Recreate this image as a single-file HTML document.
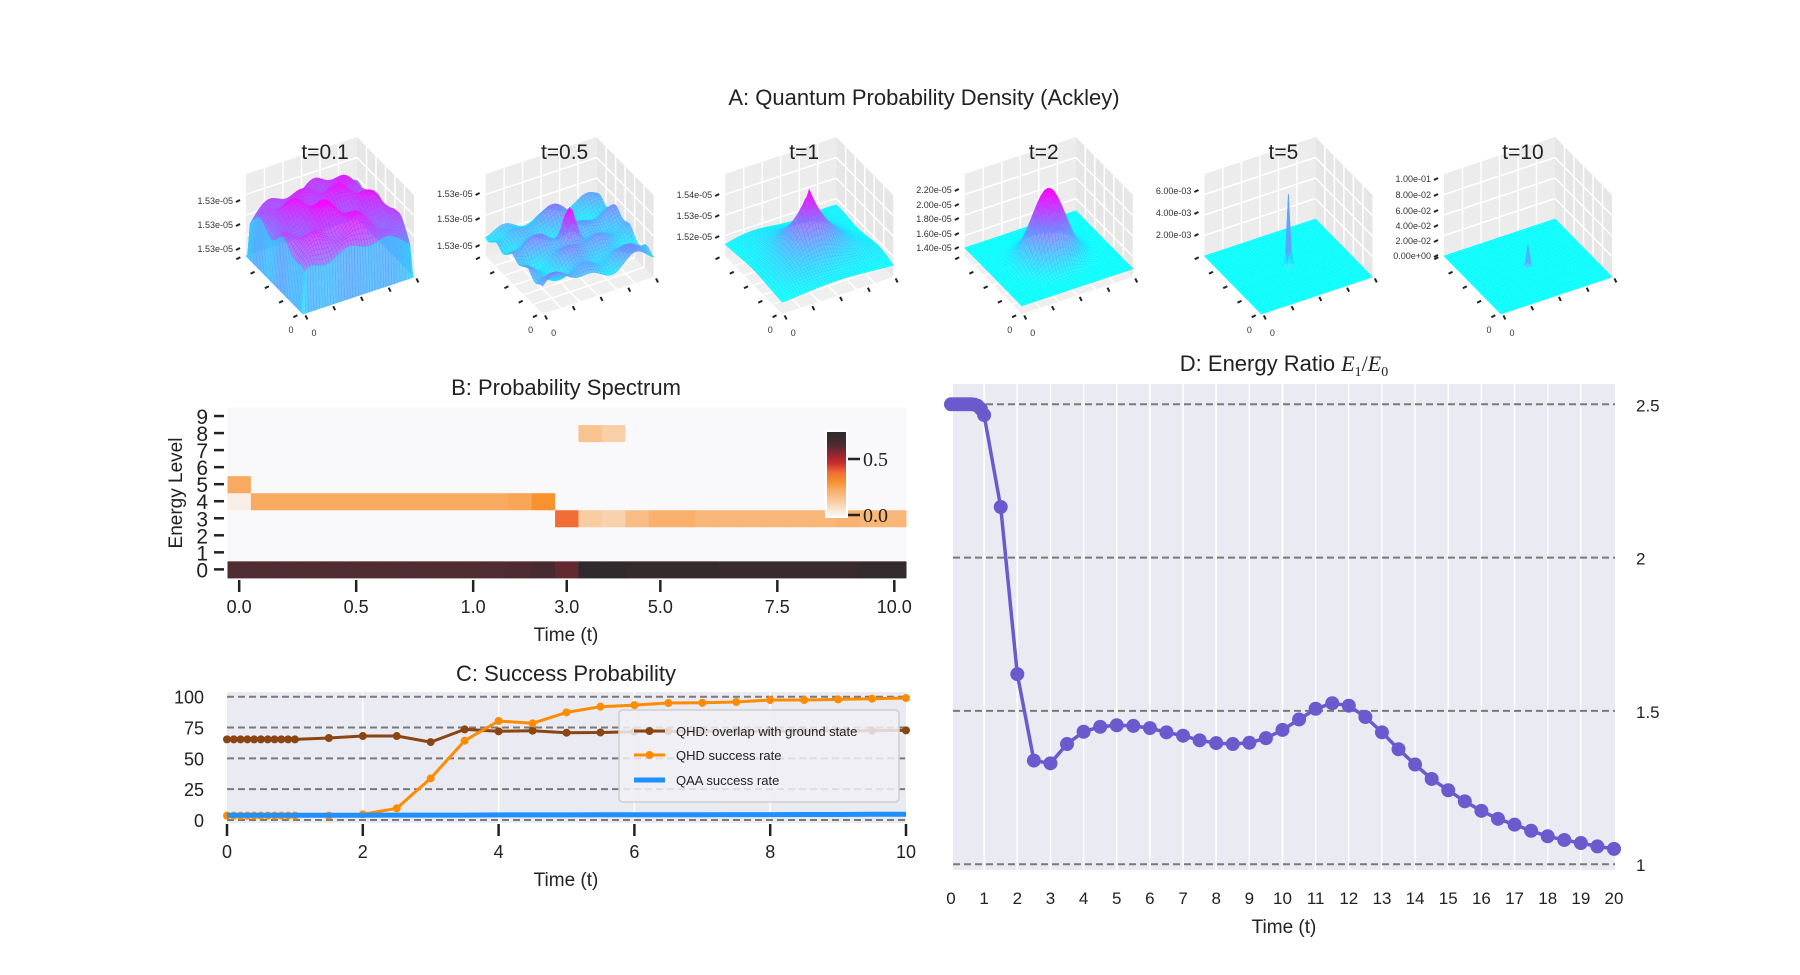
<!DOCTYPE html>
<html><head><meta charset="utf-8"><title>QHD Figure</title>
<style>
html,body{margin:0;padding:0;background:#fff;}
svg{display:block;font-family:"Liberation Sans",sans-serif;}
</style></head>
<body>
<svg id="fig" width="1800" height="975" viewBox="0 0 1800 975" xmlns="http://www.w3.org/2000/svg">
<rect width="1800" height="975" fill="#fff"/>
<text x="924" y="105" font-size="22" text-anchor="middle" fill="#222">A: Quantum Probability Density (Ackley)</text>
<g id="panelA"></g>
<g id="panelB"></g>
<g id="panelC"></g>
<g id="panelD"></g>
</svg>
<script>
// ---------- DATA ----------
const surfTitles = ['t=0.1','t=0.5','t=1','t=2','t=5','t=10'];
const surfZTicks = [
  ['1.53e-05','1.53e-05','1.53e-05'],
  ['1.53e-05','1.53e-05','1.53e-05'],
  ['1.54e-05','1.53e-05','1.52e-05'],
  ['2.20e-05','2.00e-05','1.80e-05','1.60e-05','1.40e-05'],
  ['6.00e-03','4.00e-03','2.00e-03'],
  ['1.00e-01','8.00e-02','6.00e-02','4.00e-02','2.00e-02','0.00e+00']
];
const surfZTickY = [[201,225,249],[194,219,246],[195,216,237],[190,205,219,234,248],[191,213,235],[179,195,211,226,241,256]];

const heatTimes = ['0.0','0.1','0.2','0.3','0.4','0.5','0.6','0.7','0.8','0.9','1.0','1.5','2.0','2.5','3.0','3.5','4.0','4.5','5.0','5.5','6.0','6.5','7.0','7.5','8.0','8.5','9.0','9.5','10.0'];
const heatTickCols = [0,5,10,14,18,23,28];
const heatLevels = [0,1,2,3,4,5,6,7,8,9];
const heatRow0 = [0.62,0.62,0.62,0.62,0.62,0.62,0.62,0.62,0.62,0.62,0.62,0.62,0.63,0.65,0.6,0.73,0.73,0.71,0.71,0.71,0.71,0.7,0.7,0.7,0.7,0.7,0.7,0.72,0.72];
const heatRow3 = [0,0,0,0,0,0,0,0,0,0,0,0,0,0,0.38,0.13,0.11,0.18,0.22,0.22,0.2,0.2,0.2,0.2,0.2,0.2,0.21,0.2,0.2];
const heatRow4 = [0.03,0.24,0.24,0.24,0.24,0.24,0.24,0.24,0.24,0.24,0.24,0.24,0.25,0.3,0,0,0,0,0,0,0,0,0,0,0,0,0,0,0];
const heatRow5 = [0.24,0,0,0,0,0,0,0,0,0,0,0,0,0,0,0,0,0,0,0,0,0,0,0,0,0,0,0,0];
const heatRow8 = [0,0,0,0,0,0,0,0,0,0,0,0,0,0,0,0.16,0.12,0,0,0,0,0,0,0,0,0,0,0,0];

const cTimes = [0,0.1,0.2,0.3,0.4,0.5,0.6,0.7,0.8,0.9,1,1.5,2,2.5,3,3.5,4,4.5,5,5.5,6,6.5,7,7.5,8,8.5,9,9.5,10];
const cOverlap = [65.4,65.4,65.4,65.4,65.4,65.4,65.4,65.4,65.4,65.4,65.4,66.5,68.1,68.1,63.2,73.5,71.9,72.4,70.8,71,71.6,72,72,72,72,72.2,72.3,72.5,72.7];
const cQHD = [3.5,3.5,3.5,3.5,3.5,3.5,3.5,3.5,3.5,3.5,3.5,3.5,4.6,9.5,33.8,64.3,80.3,78.4,87.3,91.9,93.2,94.9,95.1,95.7,97.3,97.3,97.8,98.4,98.9];
const cQAA = [3.8,3.8,3.8,3.8,3.8,3.8,3.8,3.8,3.8,3.8,3.8,3.9,3.9,4,4,4,4.1,4.1,4.1,4.2,4.2,4.3,4.3,4.4,4.4,4.5,4.5,4.6,4.6];
const cXTicks = [0,2,4,6,8,10];
const cYTicks = [0,25,50,75,100];

const dTimes = [0,0.1,0.2,0.3,0.4,0.5,0.6,0.7,0.8,0.9,1,1.5,2,2.5,3,3.5,4,4.5,5,5.5,6,6.5,7,7.5,8,8.5,9,9.5,10,10.5,11,11.5,12,12.5,13,13.5,14,14.5,15,15.5,16,16.5,17,17.5,18,18.5,19,19.5,20];
const dRatio = [2.5,2.5,2.5,2.5,2.5,2.5,2.5,2.499,2.495,2.485,2.465,2.165,1.62,1.338,1.329,1.392,1.432,1.448,1.453,1.451,1.444,1.43,1.419,1.404,1.395,1.392,1.396,1.411,1.438,1.472,1.507,1.525,1.517,1.48,1.43,1.375,1.325,1.278,1.241,1.205,1.174,1.148,1.129,1.109,1.091,1.079,1.069,1.058,1.05];
const dXTicks = [0,1,2,3,4,5,6,7,8,9,10,11,12,13,14,15,16,17,18,19,20];
const dYTicks = [1,1.5,2,2.5];
const dYTickLabels = ['1','1.5','2','2.5'];

// ---------- HELPERS ----------
const NS='http://www.w3.org/2000/svg';
function mk(tag, attrs, parent){const e=document.createElementNS(NS,tag);for(const k in attrs)e.setAttribute(k,attrs[k]);parent.appendChild(e);return e;}
function txt(parent,x,y,s,size,anchor,extra){const t=mk('text',Object.assign({x:x,y:y,'font-size':size,'text-anchor':anchor||'middle',fill:'#222'},extra||{}),parent);t.textContent=s;return t;}

// ---------- PANEL A ----------
const gA=document.getElementById('panelA');
const surfFns=[
 (u,v)=>{const s=Math.max(0,Math.sin(Math.PI*u)*Math.sin(Math.PI*v));const b=Math.pow(s,0.12);return 0.78*b+0.1*Math.cos(5*Math.PI*u)*Math.cos(5*Math.PI*v)*b+0.05*Math.sin(13*u+7*v)*b;},
 (u,v)=>{const d=(u-.5)*(u-.5)+(v-.5)*(v-.5);return 0.3+0.07*Math.sin(9*u)*Math.cos(11*v)+0.05*Math.sin(17*u+5*v)+0.04*Math.cos(23*v-3*u)+0.55*Math.exp(-d/0.006);},
 (u,v)=>{const d=Math.sqrt((u-.5)*(u-.5)+(v-.5)*(v-.5));return 0.12+0.8*Math.exp(-d/0.2)+0.03*Math.sin(8*u)*Math.sin(8*v);},
 (u,v)=>{const d=(u-.5)*(u-.5)+(v-.5)*(v-.5);return 0.1+0.85*Math.exp(-d/0.035);},
 (u,v)=>{const d=(u-.5)*(u-.5)+(v-.5)*(v-.5);return 0.88*Math.exp(-d/0.0004);},
 (u,v)=>{const d=(u-.5)*(u-.5)+(v-.5)*(v-.5);return 0.27*Math.exp(-d/0.0003);}
];
const N=40;
for(let p=0;p<6;p++){
  const Lx=242+239.6*p;
  const g=mk('g',{},gA);
  
  
  const F=[Lx+61,314],R=[Lx+172,277],L=[Lx+4,256];
  const up=82;
  const P=(u,v,w)=>[F[0]+u*(R[0]-F[0])+v*(L[0]-F[0]), F[1]+u*(R[1]-F[1])+v*(L[1]-F[1])-up*w];
  const pts=a=>a.map(q=>q[0].toFixed(1)+','+q[1].toFixed(1)).join(' ');
  mk('polygon',{points:pts([P(0,0,0),P(1,0,0),P(1,1,0),P(0,1,0)]),fill:'#efefef'},g);
  mk('polygon',{points:pts([P(0,1,0),P(1,1,0),P(1,1,1),P(0,1,1)]),fill:'#ececec'},g);
  mk('polygon',{points:pts([P(1,0,0),P(1,1,0),P(1,1,1),P(1,0,1)]),fill:'#e6e6e6'},g);
  for(let i=1;i<6;i++){const f=i/6;
    let a=P(f,1,0),b=P(f,1,1);mk('line',{x1:a[0],y1:a[1],x2:b[0],y2:b[1],stroke:'#fff','stroke-width':1.5},g);
    a=P(1,f,0);b=P(1,f,1);mk('line',{x1:a[0],y1:a[1],x2:b[0],y2:b[1],stroke:'#fff','stroke-width':1.5},g);
    a=P(f,0,0);b=P(f,1,0);mk('line',{x1:a[0],y1:a[1],x2:b[0],y2:b[1],stroke:'#fff','stroke-width':1.5},g);
    a=P(0,f,0);b=P(1,f,0);mk('line',{x1:a[0],y1:a[1],x2:b[0],y2:b[1],stroke:'#fff','stroke-width':1.5},g);
  }
  for(let i=1;i<4;i++){const f=i/4;
    let a=P(0,1,f),b=P(1,1,f);mk('line',{x1:a[0],y1:a[1],x2:b[0],y2:b[1],stroke:'#fff','stroke-width':1.5},g);
    a=P(1,0,f);b=P(1,1,f);mk('line',{x1:a[0],y1:a[1],x2:b[0],y2:b[1],stroke:'#fff','stroke-width':1.5},g);
  }
  const W=[];let mn=1e9,mx=-1e9;
  for(let i=0;i<=N;i++){W.push([]);for(let j=0;j<=N;j++){const w=Math.max(0,surfFns[p](i/N,j/N));W[i].push(w);mn=Math.min(mn,w);mx=Math.max(mx,w);}}
  const cells=[];for(let i=0;i<N;i++)for(let j=0;j<N;j++)cells.push([i,j]);
  cells.sort((a,b)=>(b[0]+b[1])-(a[0]+a[1]));
  const sg=mk('g',{},g);
  
  
  for(const [i,j] of cells){
    const wa=(W[i][j]+W[i+1][j]+W[i][j+1]+W[i+1][j+1])/4;
    const t=mx>mn?(wa-mn)/(mx-mn):0;
    const col='rgb('+Math.round(255*t)+','+Math.round(255*(1-t))+',255)';
    mk('polygon',{points:pts([P(i/N,j/N,W[i][j]),P((i+1)/N,j/N,W[i+1][j]),P((i+1)/N,(j+1)/N,W[i+1][j+1]),P(i/N,(j+1)/N,W[i][j+1])]),fill:col,stroke:col,'stroke-width':0.6,'fill-opacity':0.8},sg);
  }
  for(let i=0;i<5;i++){const f=i/4;
    let a=P(-0.06,f,0);mk('line',{x1:a[0]-3,y1:a[1]+1,x2:a[0]+1,y2:a[1]-1,stroke:'#222','stroke-width':2},g);
    a=P(f,-0.06,0);mk('line',{x1:a[0]-1,y1:a[1]-2,x2:a[0]+1,y2:a[1]+2,stroke:'#222','stroke-width':2},g);
  }
  txt(g,Lx+49,333,'0',9,'middle',{fill:'#333'});
  txt(g,Lx+72,336,'0',9,'middle',{fill:'#333'});
  surfZTicks[p].forEach((s,k)=>{const y=surfZTickY[p][k];
    mk('line',{x1:Lx-6,y1:y+1,x2:Lx-2,y2:y-1,stroke:'#222','stroke-width':2},g);
    txt(g,Lx-9,y+3,s,9,'end',{fill:'#333'});
  });
  const tt=txt(g,Lx+83,159,surfTitles[p],21,'middle');
  
  
}

// ---------- PANEL B ----------
const gB=document.getElementById('panelB');
const cmStops=[[0,'#f9f8fb'],[0.1,'#f9d5b3'],[0.24,'#f8aa60'],[0.3,'#f7922f'],[0.38,'#f26d36'],[0.47,'#c62a2e'],[0.55,'#8f2530'],[0.62,'#502b30'],[0.74,'#2c2a2b']];
function hex(h){return [parseInt(h.slice(1,3),16),parseInt(h.slice(3,5),16),parseInt(h.slice(5,7),16)];}
function cmap(v){if(v<=0)return cmStops[0][1];for(let i=1;i<cmStops.length;i++){if(v<=cmStops[i][0]){const a=cmStops[i-1],b=cmStops[i];const t=(v-a[0])/(b[0]-a[0]);const ca=hex(a[1]),cb=hex(b[1]);return 'rgb('+ca.map((c,k)=>Math.round(c+(cb[k]-c)*t)).join(',')+')';}}return cmStops[cmStops.length-1][1];}
const hx0=227.5,hx1=906,hTop=407.5,rowH=17.04;
const colW=(hx1-hx0)/heatTimes.length;
const xCol=c=>hx0+c*colW;
const yRow=r=>hTop+(9-r)*rowH;
const rowsData={0:heatRow0,3:heatRow3,4:heatRow4,5:heatRow5,8:heatRow8};
heatLevels.forEach(r=>{
  heatTimes.forEach((tm,c)=>{
    const v=rowsData[r]?rowsData[r][c]:0;
    const rc=mk('rect',{x:xCol(c).toFixed(2),y:yRow(r).toFixed(2),width:(colW+0.5).toFixed(2),height:(rowH+0.5).toFixed(2),fill:cmap(v)},gB);
    
    
  });
});
txt(gB,566,395,'B: Probability Spectrum',22,'middle');
heatLevels.forEach(r=>{const y=yRow(r)+rowH/2;
  mk('line',{x1:214,y1:y,x2:224,y2:y,stroke:'#222','stroke-width':2.5},gB);
  txt(gB,208,y+8,String(r),21,'end');
});
const yl=txt(gB,0,0,'Energy Level',19,'middle',{transform:'translate(182,493) rotate(-90)'});


heatTickCols.forEach(c=>{const x=xCol(c)+colW/2;
  mk('line',{x1:x,y1:580,x2:x,y2:592,stroke:'#222','stroke-width':2.5},gB);
  txt(gB,x,613,heatTimes[c],18,'middle');
});
txt(gB,566,641,'Time (t)',19,'middle');
const cbg=mk('g',{},gB);


const defs=mk('defs',{},cbg);
const lg=mk('linearGradient',{id:'cbgrad',x1:0,y1:1,x2:0,y2:0},defs);
cmStops.forEach(s=>mk('stop',{offset:(s[0]/0.74).toFixed(3),'stop-color':s[1]},lg));
mk('rect',{x:825,y:430,width:23,height:88,fill:'#fff'},cbg);
mk('rect',{x:827,y:432,width:19,height:84,fill:'url(#cbgrad)'},cbg);
const cbY=v=>515-v*112;
[[0.5,'0.5'],[0,'0.0']].forEach(([v,s])=>{mk('line',{x1:848,y1:cbY(v),x2:860,y2:cbY(v),stroke:'#222','stroke-width':2.5},cbg);txt(cbg,863,cbY(v)+7,s,20,'start',{'font-family':'"Liberation Serif",serif'});});

// ---------- PANEL C ----------
const gC=document.getElementById('panelC');
const cx0=227,cx1=906,cyTop=692,cyBot=823;
const cX=t=>cx0+(t/10)*(cx1-cx0);
const cY=v=>820-(v/100)*123.3;
mk('rect',{x:cx0,y:cyTop,width:cx1-cx0,height:cyBot-cyTop,fill:'#eaeaf2'},gC);
cXTicks.forEach(t=>{if(t>0&&t<10)mk('line',{x1:cX(t),y1:cyTop,x2:cX(t),y2:cyBot,stroke:'#fff','stroke-width':1.5},gC);});
cYTicks.forEach(v=>{mk('line',{x1:cx0,y1:cY(v),x2:cx1,y2:cY(v),stroke:'#7a7a7a','stroke-width':2,'stroke-dasharray':'7,4'},gC);txt(gC,204,cY(v)+7,String(v),18,'end');});
cXTicks.forEach(t=>{mk('line',{x1:cX(t),y1:824,x2:cX(t),y2:836,stroke:'#222','stroke-width':2.5},gC);txt(gC,cX(t),858,String(t),18,'middle');});
txt(gC,566,681,'C: Success Probability',22,'middle');
txt(gC,566,886,'Time (t)',19,'middle');
function series(g,xs,ys,col,mark,name){
  const d=xs.map((t,i)=>(i?'L':'M')+cX(t).toFixed(1)+','+cY(ys[i]).toFixed(1)).join(' ');
  const pth=mk('path',{d:d,fill:'none',stroke:col,'stroke-width':mark?3:5,'stroke-linejoin':'round'},g);
  
  
  if(mark)xs.forEach((t,i)=>{const c=mk('circle',{cx:cX(t),cy:cY(ys[i]),r:4,fill:col},g);
    
    });
}
series(gC,cTimes,cOverlap,'#8b4513',true,'overlap-line');
series(gC,cTimes,cQHD,'#ff8c00',true,'qhd-success-line');
series(gC,cTimes,cQAA,'#1e90ff',false,'qaa-success-line');
const leg=mk('g',{},gC);


mk('rect',{x:619,y:710,width:280,height:92,rx:4,fill:'#f0f0f4','fill-opacity':0.85,stroke:'#cfcfcf','stroke-width':1.5},leg);
[['#8b4513',true,'QHD: overlap with ground state',731],['#ff8c00',true,'QHD success rate',755],['#1e90ff',false,'QAA success rate',780]].forEach(([col,m,s,y])=>{
  const e=mk('g',{},leg);
  
  
  mk('line',{x1:634,y1:y,x2:665,y2:y,stroke:col,'stroke-width':m?3:5},e);
  if(m)mk('circle',{cx:649.5,cy:y,r:4,fill:col},e);
  txt(e,676,y+5,s,13,'start');
});

// ---------- PANEL D ----------
const gD=document.getElementById('panelD');
const dx0=953,dx1=1615,dyTop=384,dyBot=870;
const dX=t=>951+(t/20)*(1614-951);
const dY=v=>864.2-(v-1)/1.5*(864.2-404.3);
mk('rect',{x:dx0,y:dyTop,width:dx1-dx0,height:dyBot-dyTop,fill:'#eaeaf2'},gD);
dXTicks.forEach(t=>{if(t>0&&t<20)mk('line',{x1:dX(t),y1:dyTop,x2:dX(t),y2:dyBot,stroke:'#fff','stroke-width':1.5},gD);txt(gD,dX(t),904,String(t),17,'middle');});
dYTicks.forEach((v,i)=>{mk('line',{x1:dx0,y1:dY(v),x2:dx1,y2:dY(v),stroke:'#7a7a7a','stroke-width':2,'stroke-dasharray':'7,4'},gD);txt(gD,1636,dY(v)+7,dYTickLabels[i],17,'start');});
const dT=mk('text',{x:1284,y:371,'font-size':22,'text-anchor':'middle',fill:'#222'},gD);
dT.innerHTML='D: Energy Ratio <tspan font-family="Liberation Serif,serif" font-style="italic">E</tspan><tspan font-family="Liberation Serif,serif" font-size="14" dy="5">1</tspan><tspan font-family="Liberation Serif,serif" dy="-5">/</tspan><tspan font-family="Liberation Serif,serif" font-style="italic">E</tspan><tspan font-family="Liberation Serif,serif" font-size="14" dy="5">0</tspan>';


txt(gD,1284,933,'Time (t)',19,'middle');
const dd=dTimes.map((t,i)=>(i?'L':'M')+dX(t).toFixed(1)+','+dY(dRatio[i]).toFixed(1)).join(' ');
const dl=mk('path',{d:dd,fill:'none',stroke:'#6a5acd','stroke-width':3.5,'stroke-linejoin':'round'},gD);


dTimes.forEach((t,i)=>{const c=mk('circle',{cx:dX(t),cy:dY(dRatio[i]),r:7,fill:'#6a5acd'},gD);
  
  });
</script>
</body></html>
